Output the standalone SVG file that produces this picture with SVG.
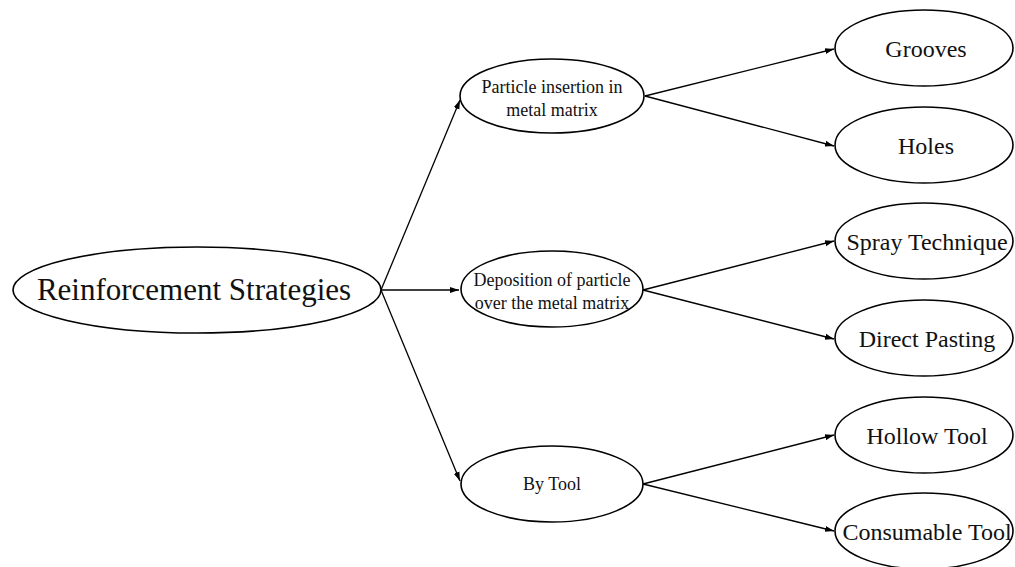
<svg xmlns="http://www.w3.org/2000/svg" width="1015" height="567" viewBox="0 0 1015 567">
<defs>
<marker id="ah" markerWidth="10" markerHeight="8" refX="9" refY="4" orient="auto" markerUnits="userSpaceOnUse">
<path d="M0,1 L9,4 L0,7 Z" fill="#000"/>
</marker>
<style>
ellipse{fill:#fff;stroke:#000;stroke-width:1.6}
text{font-family:"Liberation Serif","Times New Roman",serif;fill:#111;text-anchor:middle}
.c line{stroke:#000;stroke-width:1.3;marker-end:url(#ah)}
.m{font-size:18px}
.r{font-size:24px}
</style>
</defs>
<rect width="1015" height="567" fill="#fff"/>
<g class="c" id="connectors">
<line x1="381" y1="290" x2="460" y2="100"/>
<line x1="381" y1="290" x2="459" y2="290"/>
<line x1="381" y1="290" x2="460" y2="481"/>
<line x1="645" y1="96" x2="834" y2="49"/>
<line x1="645" y1="96" x2="834" y2="146"/>
<line x1="643" y1="290" x2="834" y2="241"/>
<line x1="643" y1="290" x2="834" y2="339"/>
<line x1="643" y1="484" x2="834" y2="435"/>
<line x1="643" y1="484" x2="834" y2="531"/>
</g>
<g id="root"><ellipse cx="197" cy="290" rx="184" ry="43"/><text x="194" y="300" font-size="31">Reinforcement Strategies</text></g>
<g id="n-particle"><ellipse cx="552" cy="96" rx="92" ry="37"/><text class="m" x="552" y="93">Particle insertion in</text><text class="m" x="552" y="116">metal matrix</text></g>
<g id="n-deposition"><ellipse cx="552" cy="289" rx="91" ry="38"/><text class="m" x="552" y="286">Deposition of particle</text><text class="m" x="552" y="309">over the metal matrix</text></g>
<g id="n-tool"><ellipse cx="552" cy="484" rx="91" ry="38"/><text class="m" x="552" y="490">By Tool</text></g>
<g id="n-grooves"><ellipse cx="924" cy="48" rx="89" ry="38"/><text class="r" x="926" y="57">Grooves</text></g>
<g id="n-holes"><ellipse cx="924" cy="145" rx="89" ry="38"/><text class="r" x="926" y="154">Holes</text></g>
<g id="n-spray"><ellipse cx="924" cy="241" rx="89" ry="38"/><text class="r" x="927" y="250">Spray Technique</text></g>
<g id="n-direct"><ellipse cx="924" cy="338" rx="89" ry="38"/><text class="r" x="927" y="347">Direct Pasting</text></g>
<g id="n-hollow"><ellipse cx="924" cy="435" rx="89" ry="38"/><text class="r" x="927" y="444">Hollow Tool</text></g>
<g id="n-consumable"><ellipse cx="924" cy="531" rx="89" ry="38"/><text class="r" x="927" y="540">Consumable Tool</text></g>
</svg>
